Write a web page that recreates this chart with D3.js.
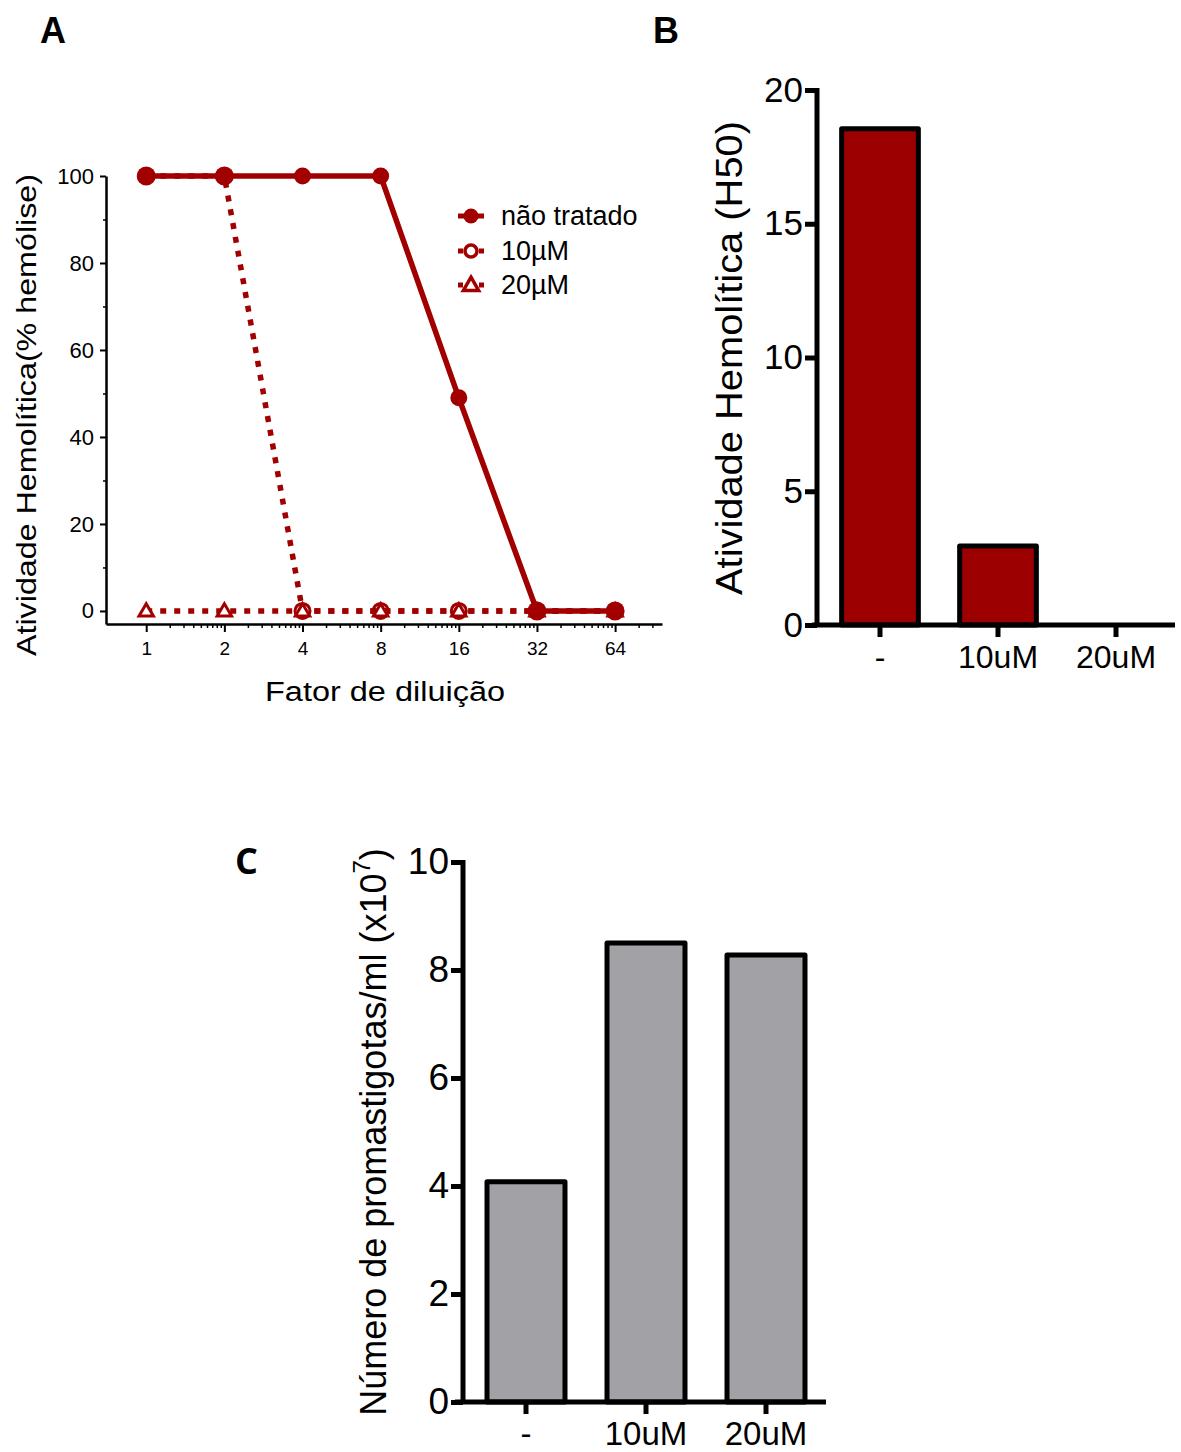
<!DOCTYPE html>
<html>
<head>
<meta charset="utf-8">
<script src="https://cdn.jsdelivr.net/npm/d3@7"></script>
<style>
  body { margin: 0; background: #fff; }
  svg { font-family: "Liberation Sans", Arial, sans-serif; }
</style>
</head>
<body>
<div id="chart"></div>
<script>
// panel A data
var dilutions = [1, 2, 4, 8, 16, 32, 64];
var naoTratado = [100, 100, 100, 100, 49, 0, 0];
var uM10 = [100, 100, 0, 0, 0, 0, 0];
var uM20 = [0, 0, 0, 0, 0, 0, 0];
var yTicksA = [0, 20, 40, 60, 80, 100];
var legendNames = ["não tratado", "10µM", "20µM"];

// panel B data
var catsB = ["-", "10uM", "20uM"];
var h50 = [18.55, 2.95, 0];
var yTicksB = [0, 5, 10, 15, 20];

// panel C data
var catsC = ["-", "10uM", "20uM"];
var promast = [4.08, 8.5, 8.28];
var yTicksC = [0, 2, 4, 6, 8, 10];

var red = "#a20000";

var svg = d3.select("#chart")
    .append("svg")
    .attr("width", 1181)
    .attr("height", 1452);

// panel letters
svg.append("text").attr("x", 40).attr("y", 43).text("A")
    .style("font-size", "36px").style("font-weight", "bold");
svg.append("text").attr("x", 653).attr("y", 43).text("B")
    .style("font-size", "36px").style("font-weight", "bold");
svg.append("text").attr("x", 235).attr("y", 874).text("C")
    .style("font-size", "36px").style("font-weight", "bold").style("font-family", "'Open Sans', sans-serif");

// ---------- panel A ----------
var xA = d3.scaleLog().base(2).domain([0.7, 97]).range([106, 662]);
var yA = d3.scaleLinear().domain([-3, 100]).range([624, 176]);

// minor ticks, spaced like GraphPad does inside each doubling
var minorX = [];
dilutions.forEach(function(d) {
    for (var k = 2; k <= 9; k++) {
        var v = d * Math.pow(2, Math.log10(k));
        if (v < 97) minorX.push(v);
    }
});

var gA = svg.append("g");

gA.append("g")
    .attr("transform", "translate(0,624)")
    .call(d3.axisBottom(xA).tickValues(minorX).tickSize(4).tickFormat(""))
    .call(function(g) { g.select(".domain").remove(); g.selectAll("line").attr("stroke-width", 1.5); });

gA.append("g")
    .attr("transform", "translate(0,624)")
    .call(d3.axisBottom(xA).tickValues(dilutions).tickSize(8).tickSizeOuter(0).tickPadding(10).tickFormat(d3.format("d")))
    .call(function(g) {
        g.select(".domain").attr("stroke-width", 2.5);
        g.selectAll("line").attr("stroke-width", 2);
        g.selectAll("text").style("font-size", "19px").attr("fill", "#000");
    });

gA.append("g")
    .attr("transform", "translate(106,0)")
    .call(d3.axisLeft(yA).tickValues([10, 30, 50, 70, 90]).tickSize(3).tickFormat(""))
    .call(function(g) { g.select(".domain").remove(); g.selectAll("line").attr("stroke-width", 1.5); });

gA.append("g")
    .attr("transform", "translate(106,0)")
    .call(d3.axisLeft(yA).tickValues(yTicksA).tickSize(6).tickSizeOuter(0).tickPadding(6))
    .call(function(g) {
        g.select(".domain").attr("stroke-width", 2.5);
        g.selectAll("line").attr("stroke-width", 2);
        g.selectAll("text").style("font-size", "22px").attr("fill", "#000");
    });

gA.append("text")
    .attr("transform", "translate(36,415) rotate(-90)")
    .attr("text-anchor", "middle")
    .attr("textLength", 482).attr("lengthAdjust", "spacingAndGlyphs")
    .style("font-size", "28px")
    .text("Atividade Hemolítica(% hemólise)");

gA.append("text")
    .attr("x", 385).attr("y", 701)
    .attr("text-anchor", "middle")
    .attr("textLength", 240).attr("lengthAdjust", "spacingAndGlyphs")
    .style("font-size", "27px")
    .text("Fator de diluição");

var lineA = d3.line()
    .x(function(d) { return xA(d[0]); })
    .y(function(d) { return yA(d[1]); });

function pairs(vals) { return dilutions.map(function(d, i) { return [d, vals[i]]; }); }

var tri = d3.symbol().type(d3.symbolTriangle).size(90);

// 20uM
gA.append("path").datum(pairs(uM20)).attr("d", lineA)
    .attr("fill", "none").attr("stroke", red).attr("stroke-width", 5.5).attr("stroke-dasharray", "6,8");
// 10uM
gA.append("path").datum(pairs(uM10)).attr("d", lineA)
    .attr("fill", "none").attr("stroke", red).attr("stroke-width", 5.5).attr("stroke-dasharray", "6,8");

gA.selectAll(".tri").data(pairs(uM20)).enter().append("path")
    .attr("transform", function(d) { return "translate(" + xA(d[0]) + "," + (yA(d[1]) + 1) + ")"; })
    .attr("d", tri).attr("fill", "#fff").attr("stroke", red).attr("stroke-width", 3);

gA.selectAll(".open").data(pairs(uM10)).enter().append("circle")
    .attr("cx", function(d) { return xA(d[0]); })
    .attr("cy", function(d) { return yA(d[1]); })
    .attr("r", 7.5).attr("fill", "none").attr("stroke", red).attr("stroke-width", 3);

// nao tratado on top
gA.append("path").datum(pairs(naoTratado)).attr("d", lineA)
    .attr("fill", "none").attr("stroke", red).attr("stroke-width", 5.5);

gA.selectAll(".fill").data(pairs(naoTratado)).enter().append("circle")
    .attr("cx", function(d) { return xA(d[0]); })
    .attr("cy", function(d) { return yA(d[1]); })
    .attr("r", function(d, i) { return (i < 2 || i > 4) ? 9.5 : 8.5; })
    .attr("fill", red);

// legend
var legY = [216, 251, 285];
legY.forEach(function(y, i) {
    if (i == 0) {
        gA.append("line").attr("x1", 458).attr("x2", 484).attr("y1", y).attr("y2", y)
            .attr("stroke", red).attr("stroke-width", 5);
        gA.append("circle").attr("cx", 471).attr("cy", y).attr("r", 7.5).attr("fill", red);
    } else {
        gA.append("line").attr("x1", 458).attr("x2", 484).attr("y1", y).attr("y2", y)
            .attr("stroke", red).attr("stroke-width", 5).attr("stroke-dasharray", "5,16");
        if (i == 1) {
            gA.append("circle").attr("cx", 471).attr("cy", y).attr("r", 6).attr("fill", "#fff")
                .attr("stroke", red).attr("stroke-width", 3.5);
        } else {
            gA.append("path").attr("transform", "translate(471," + (y + 1) + ")")
                .attr("d", d3.symbol().type(d3.symbolTriangle).size(100))
                .attr("fill", "#fff").attr("stroke", red).attr("stroke-width", 3.5);
        }
    }
    gA.append("text").attr("x", 501).attr("y", y + 9)
        .style("font-size", "27px")
        .text(legendNames[i]);
});

// ---------- panel B ----------
var xB = d3.scaleBand().domain(catsB).range([821, 1175]);
var yB = d3.scaleLinear().domain([0, 20]).range([625, 90]);
var gB = svg.append("g");

gB.selectAll("rect").data(h50).enter().append("rect")
    .attr("x", function(d, i) { return xB(catsB[i]) + xB.bandwidth() * 0.175; })
    .attr("width", xB.bandwidth() * 0.65)
    .attr("y", function(d) { return yB(d); })
    .attr("height", function(d) { return yB(0) - yB(d); })
    .attr("fill", "#9c0000")
    .attr("stroke", "#000").attr("stroke-width", 5).attr("stroke-linejoin", "round");

gB.append("g")
    .attr("transform", "translate(0,625)")
    .call(d3.axisBottom(xB).tickSize(12).tickSizeOuter(0).tickPadding(8))
    .call(function(g) {
        g.select(".domain").attr("d", "M812,0H1175").attr("stroke-width", 5);
        g.selectAll("line").attr("stroke-width", 5);
        g.selectAll("text").style("font-size", "32px").attr("fill", "#000");
    });

gB.append("g")
    .attr("transform", "translate(817,0)")
    .call(d3.axisLeft(yB).tickValues(yTicksB).tickSize(12).tickSizeOuter(0).tickPadding(2))
    .call(function(g) {
        g.select(".domain").attr("d", "M0,88V627").attr("stroke-width", 5);
        g.selectAll("line").attr("stroke-width", 5);
        g.selectAll("text").style("font-size", "35px").attr("fill", "#000");
    });

gB.append("text")
    .attr("transform", "translate(742,358) rotate(-90)")
    .attr("text-anchor", "middle")
    .attr("textLength", 474).attr("lengthAdjust", "spacingAndGlyphs")
    .style("font-size", "37px")
    .text("Atividade Hemolítica (H50)");

// ---------- panel C ----------
var xC = d3.scaleBand().domain(catsC).range([466, 826]);
var yC = d3.scaleLinear().domain([0, 10]).range([1402, 862]);
var gC = svg.append("g");

gC.selectAll("rect").data(promast).enter().append("rect")
    .attr("x", function(d, i) { return xC(catsC[i]) + xC.bandwidth() * 0.175; })
    .attr("width", xC.bandwidth() * 0.65)
    .attr("y", function(d) { return yC(d); })
    .attr("height", function(d) { return yC(0) - yC(d); })
    .attr("fill", "#a2a1a6")
    .attr("stroke", "#000").attr("stroke-width", 5).attr("stroke-linejoin", "round");

gC.append("g")
    .attr("transform", "translate(0,1402)")
    .call(d3.axisBottom(xC).tickSize(12).tickSizeOuter(0).tickPadding(8))
    .call(function(g) {
        g.select(".domain").attr("d", "M455,0H826").attr("stroke-width", 5);
        g.selectAll("line").attr("stroke-width", 5);
        g.selectAll("text").style("font-size", "33px").attr("fill", "#000");
    });

gC.append("g")
    .attr("transform", "translate(463,0)")
    .call(d3.axisLeft(yC).tickValues(yTicksC).tickSize(12).tickSizeOuter(0).tickPadding(2))
    .call(function(g) {
        g.select(".domain").attr("d", "M0,860V1404").attr("stroke-width", 5);
        g.selectAll("line").attr("stroke-width", 5);
        g.selectAll("text").style("font-size", "37px").attr("fill", "#000");
    });

var labC = gC.append("text")
    .attr("transform", "translate(386,1132) rotate(-90)")
    .attr("text-anchor", "middle")
    .style("font-size", "36px");
labC.append("tspan").text("Número de promastigotas/ml (x10");
labC.append("tspan").attr("dy", -16).style("font-size", "24px").text("7");
labC.append("tspan").attr("dy", 16).text(")");
</script>
</body>
</html>
